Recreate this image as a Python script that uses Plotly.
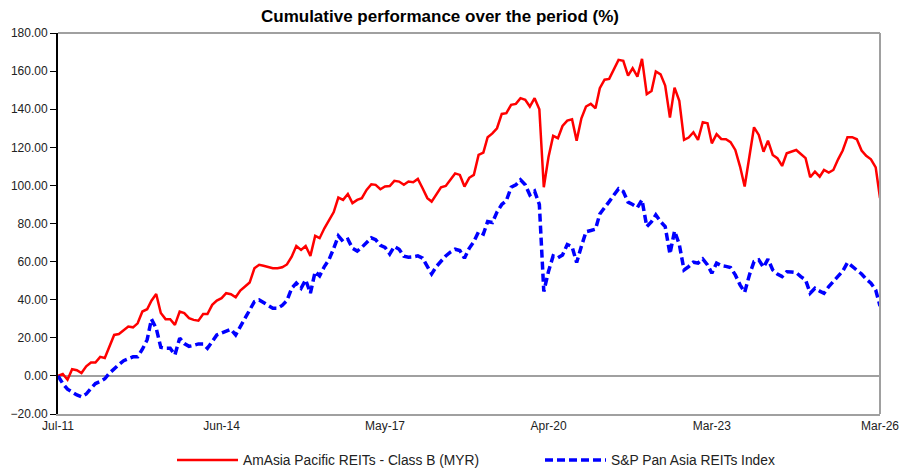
import pandas as pd
import plotly.graph_objects as go

months = pd.date_range("2011-07-01", "2026-03-01", freq="MS")

fund = [0, 1, -2, 3.5, 3, 1.5, 5, 7, 7, 10, 9.4, 15.4, 21.5, 22, 23.8, 25.9, 25.5, 27.6, 33.8, 35,
        39.5, 43, 33, 29.8, 29.8, 26.8, 33.8, 33, 30.3, 29.4,
        29, 32.5, 32.5, 37.3, 39.5, 40.8, 43.4, 42.9, 41.3, 44.8, 46.9, 49, 56.5, 58.3, 57.8, 57,
        56.5, 56.5, 57, 58.5, 62.6, 68.2, 66.1, 68.2, 63, 73.5, 72.3, 77.5, 82,
        86, 93.6, 92.4, 95.5, 90.7, 92.4, 93.3, 97.6, 100.6, 100.3, 98, 99.4, 99.7, 102.4, 102,
        100.3, 102, 101.7, 103.4, 98.5, 93.3, 91.5, 95, 99, 99.7, 103.2, 106.3, 105.5, 99.4,
        104, 105.5, 116, 117.2, 125.3, 127.3, 130, 137.5, 137.9, 142.3, 142.8, 145.8, 144.9, 141.4,
        145.8, 140, 99, 115.1, 126, 124.8, 131.2, 134, 134.7, 123.5, 135.2, 141.4, 142.8, 140.5, 151,
        155.5, 155.9, 160.6, 165.9, 165.4, 157.6, 161.5, 157.1, 166.4, 147.9, 149.6, 159.8, 158.3,
        152.4, 135.6, 151.3, 144.4, 123.9, 125.1, 127.9, 123.9, 133.2, 132.6, 122.1, 126.9, 124.4,
        124.2, 122.7, 118.6, 109.9, 99.4, 115,
        130.5, 126.5, 117.7, 123.5, 116, 114.3, 110.2, 116.9, 117.8, 118.6, 116.5, 114.3, 104.3,
        107.2, 104.6, 108.1, 106.7, 108.1, 113.7, 118.3, 125.3, 125.3, 124.2, 118.3, 115.5, 113.7,
        109.5, 93.3]

index = [0, -4, -7, -8.5, -10, -11, -9.5, -6.5, -4, -3, -1.5, 1.5, 4, 6, 8, 9, 10, 10, 14, 19,
         29.8, 25, 15, 14.5, 14.5, 11, 19.8, 17, 15.5, 16,
         16.8, 16.8, 14.5, 18, 21.5, 22.5, 23.5, 24.5, 21.5, 26, 30, 35, 39, 39.9, 38.5, 36.5,
         35.5, 35.5, 37, 39.5, 46, 48.7, 46, 50.4, 43.4, 54.7, 52.5, 57.4, 61,
         67, 73.5, 70.5, 71.7, 67, 65.5, 67.5, 70, 72.5, 71.5, 68.5, 67.5, 64, 67.9, 66.5, 62.8,
         62.3, 62.5, 63, 61.8, 57.7, 53.5, 57.4, 60.5, 63, 65, 66.5, 65.8, 61.8,
         67, 70.5, 75.7, 74.5, 81, 80.5, 86, 90, 92, 99, 100.3, 102.9, 100.3, 95, 97, 90, 44.3, 55,
         63, 62, 63.5, 69, 67.9, 59.5, 68, 75.7, 76.3, 77, 85,
         88, 91.5, 95, 98.2, 96.8, 91.2, 90, 88.4, 92.4, 78.4, 81, 84.5, 81, 78.4, 64, 76, 69, 55.6,
         57.4, 59.7, 59.2, 61.4, 58.3, 53.9, 59.2, 57.9, 57.5, 56.9, 53, 47.8, 43.9, 53,
         60, 60.9, 57, 61.3, 55.6, 53.5, 52.1, 54.7, 54.5, 54.2, 52.1, 50.4, 43.4, 46, 44.5, 43.4,
         46.9, 49.5, 52, 55, 59.5, 57.7, 55.5, 53.5, 50.8, 48.7, 45.1, 36.7]

tick_dates = ["2011-07-01", "2014-06-01", "2017-05-01", "2020-04-01", "2023-03-01", "2026-03-01"]
tick_labels = ["Jul-11", "Jun-14", "May-17", "Apr-20", "Mar-23", "Mar-26"]

fig = go.Figure()
fig.add_trace(go.Scatter(x=months, y=fund, mode="lines",
                         name="AmAsia Pacific REITs - Class B (MYR)",
                         line=dict(color="#ff0000", width=2.5)))
fig.add_trace(go.Scatter(x=months, y=index, mode="lines",
                         name="S&P Pan Asia REITs Index",
                         line=dict(color="#0000ff", width=3.5, dash="8px,4px")))

font = "Liberation Sans, Arial, sans-serif"
fig.update_layout(
    width=901, height=470,
    margin=dict(l=58, r=21, t=33, b=56, autoexpand=False),
    paper_bgcolor="white", plot_bgcolor="white",
    font=dict(family=font, size=12, color="#222222"),
    title=dict(text="<b>Cumulative performance over the period (%)</b>",
               x=440 / 901, xanchor="center", xref="container",
               y=1 - 16 / 470, yanchor="middle", yref="container",
               font=dict(family=font, size=17, color="black")),
    showlegend=True,
    legend=dict(orientation="h", xref="container", x=172 / 901, xanchor="left",
                yref="container", y=10 / 470, yanchor="middle",
                font=dict(family=font, size=13.8, color="#222222"),
                itemwidth=61, entrywidth=292, traceorder="normal",
                bgcolor="rgba(0,0,0,0)"),
    xaxis=dict(type="date", automargin=False,
               range=["2011-07-01", "2026-03-01"],
               tickvals=tick_dates, ticktext=tick_labels,
               showgrid=False, zeroline=False,
               showline=True, linecolor="#a0a0a0", linewidth=2,
               ticks="", tickfont=dict(size=12, color="#222222")),
    yaxis=dict(range=[-20, 180], dtick=20, tickformat=".2f", automargin=False,
               showgrid=False,
               zeroline=True, zerolinecolor="#a0a0a0", zerolinewidth=2,
               showline=True, linecolor="black", linewidth=2,
               ticks="outside", ticklen=6, tickcolor="black", tickwidth=1,
               tickfont=dict(size=12, color="#222222")),
)
# top and right plot border (gray)
fig.add_shape(type="line", xref="paper", yref="paper", x0=0, x1=1, y0=1, y1=1,
              line=dict(color="#a0a0a0", width=2))
fig.add_shape(type="line", xref="paper", yref="paper", x0=1, x1=1, y0=0, y1=1,
              line=dict(color="#a0a0a0", width=2))

fig.write_html("out.html", config={"displayModeBar": False},
               post_script="document.body.style.margin='0';")
